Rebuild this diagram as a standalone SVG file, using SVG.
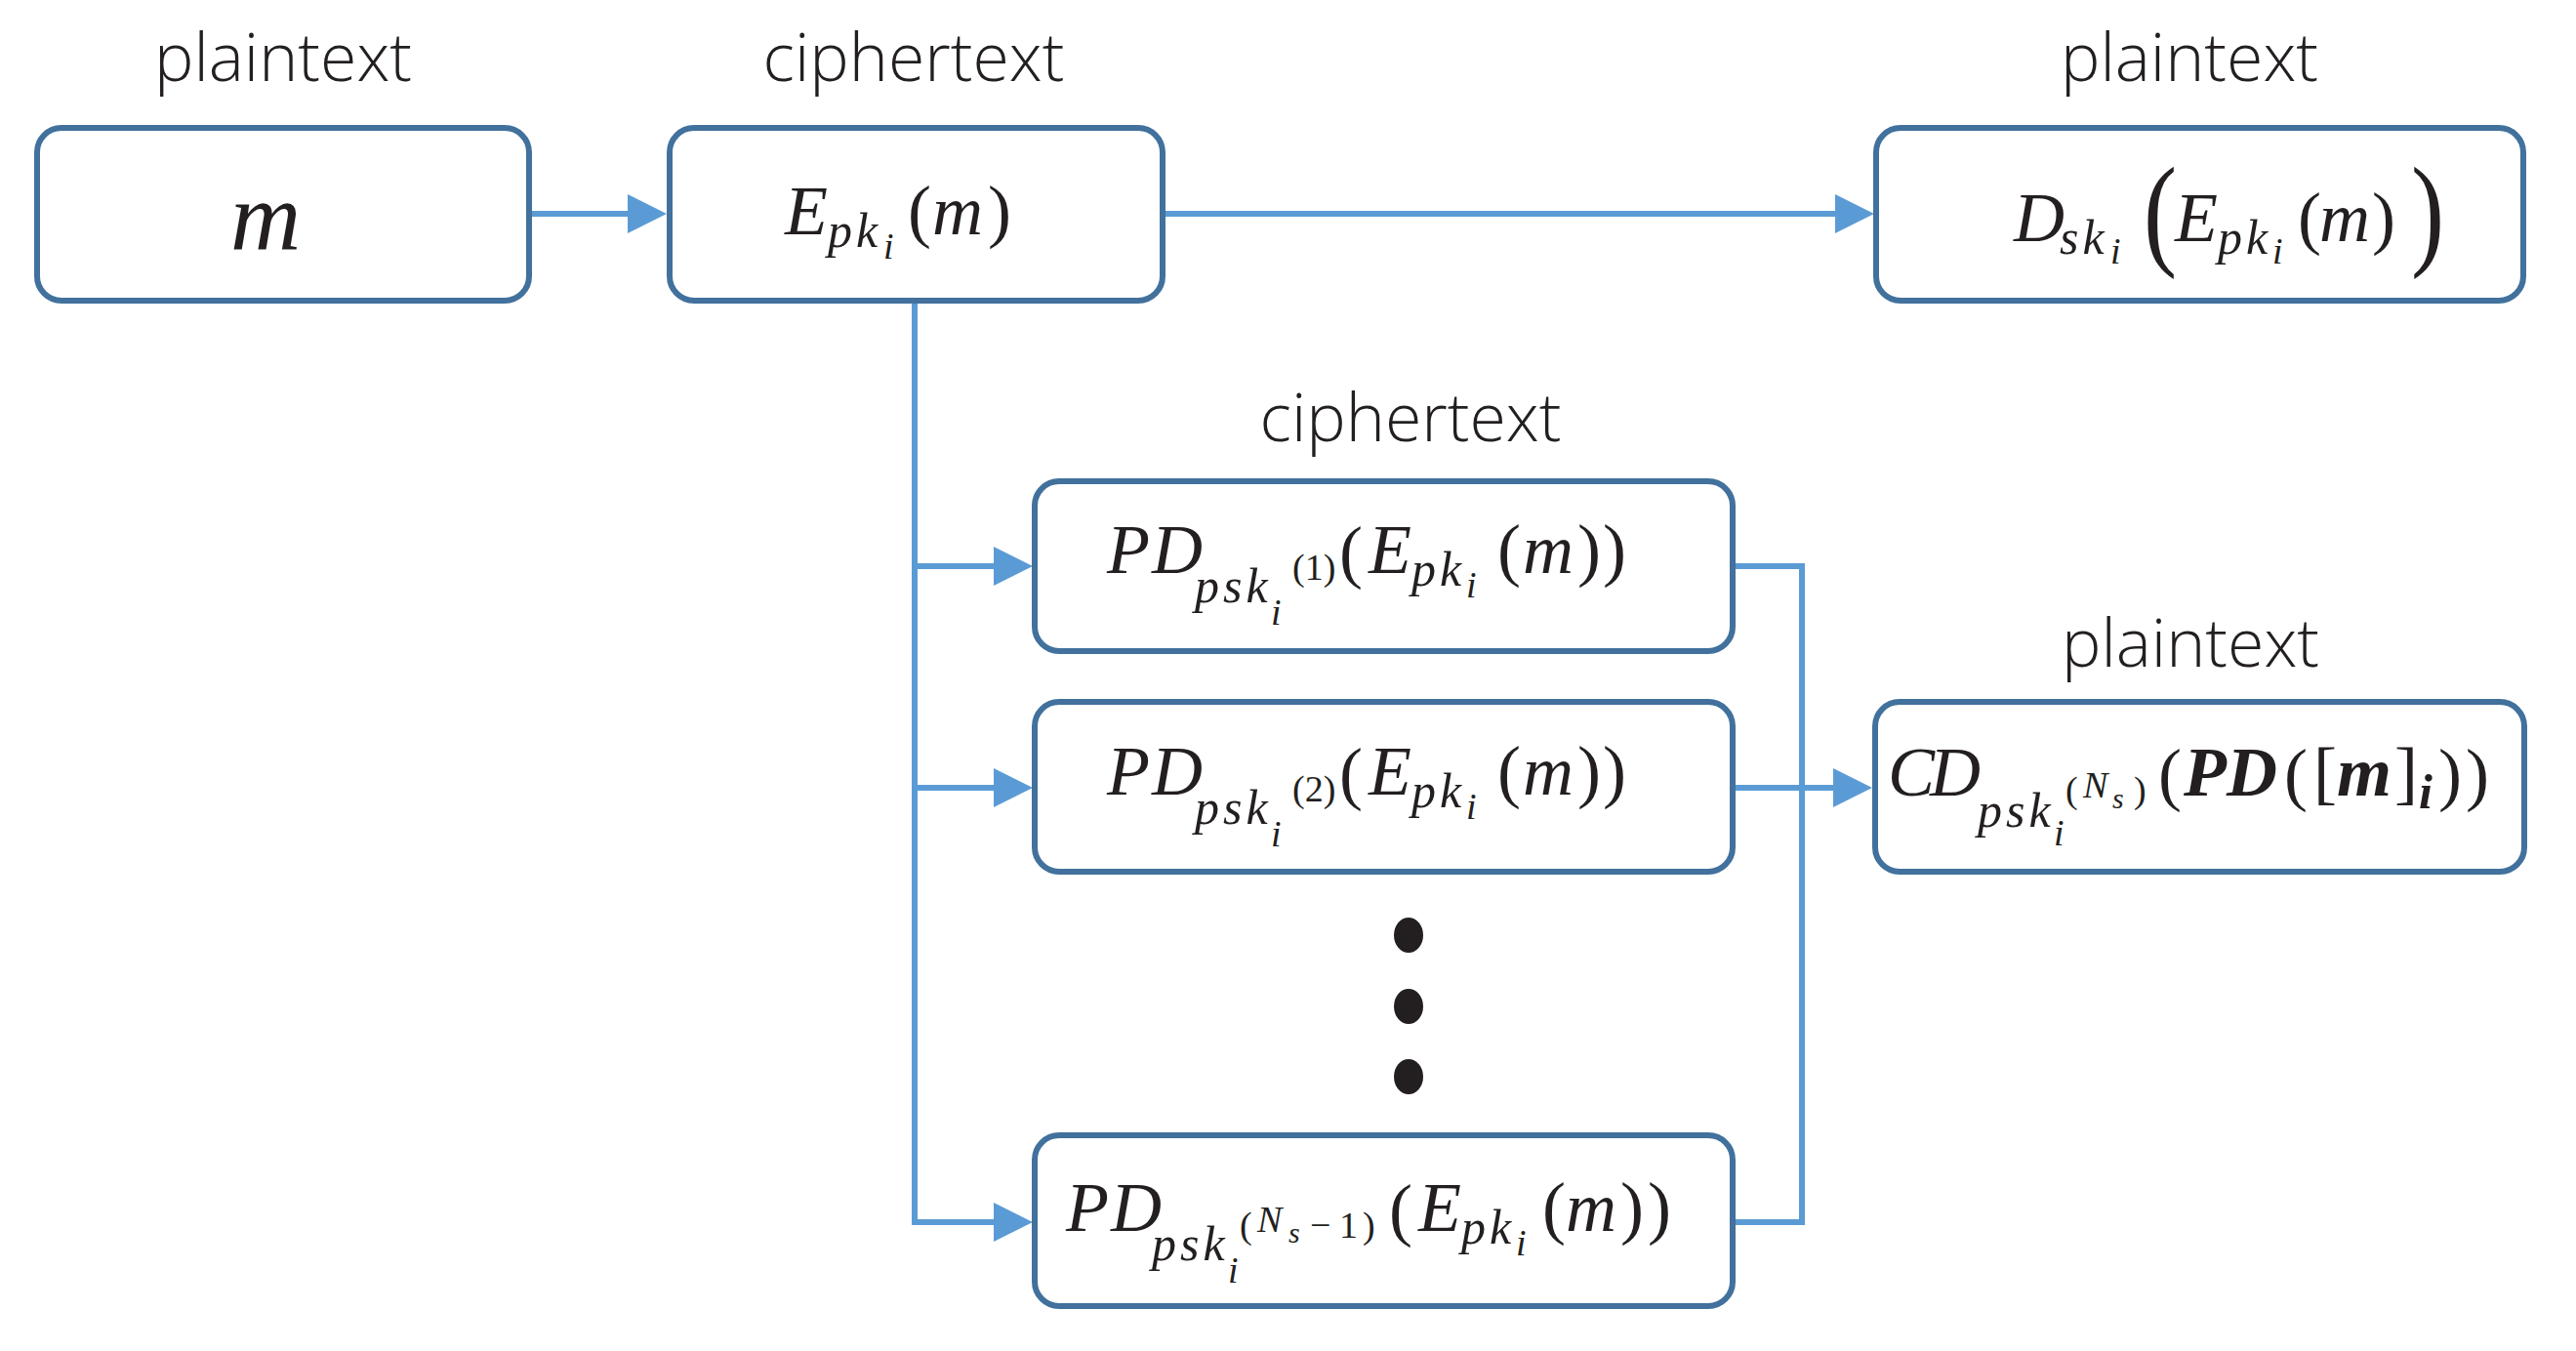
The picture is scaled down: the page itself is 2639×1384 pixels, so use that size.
<svg xmlns="http://www.w3.org/2000/svg" width="2639" height="1384" viewBox="0 0 2639 1384">
<style>
.box{fill:#fff;stroke:#41719C;stroke-width:6}
.conn{fill:none;stroke:#5B9BD5;stroke-width:6}
.lbl{font-family:"Open Sans","Noto Sans","Liberation Sans",sans-serif;font-weight:300;font-size:68px;fill:#231F20;text-anchor:middle}
.mt{font-family:"Liberation Serif","DejaVu Serif",serif;fill:#231F20;font-size:72px}
.it{font-style:italic}
.bi{font-style:italic;font-weight:bold}
.s{font-size:50px;letter-spacing:4px}
.ss{font-size:38px}
.sss{font-size:30px}
.big{font-size:128px}
.huge{font-size:100px}
.dot{fill:#231F20}
</style>
<defs>
<marker id="ah" markerUnits="userSpaceOnUse" markerWidth="42" markerHeight="40" refX="2" refY="20" orient="auto">
<path d="M0,0 L40,20 L0,40 Z" fill="#5B9BD5"/>
</marker>
</defs>
<rect width="2639" height="1384" fill="#fff"/>

<g id="labels">
<text class="lbl" x="290" y="83">plaintext</text>
<text class="lbl" x="936" y="83">ciphertext</text>
<text class="lbl" x="2243" y="83">plaintext</text>
<text class="lbl" x="1445" y="452">ciphertext</text>
<text class="lbl" x="2244" y="683">plaintext</text>
</g>

<g id="connectors">
<line class="conn" x1="544" y1="219" x2="645" y2="219" marker-end="url(#ah)"/>
<line class="conn" x1="1193" y1="219" x2="1882" y2="219" marker-end="url(#ah)"/>
<line class="conn" x1="937" y1="309" x2="937" y2="1255"/>
<line class="conn" x1="934" y1="580" x2="1020" y2="580" marker-end="url(#ah)"/>
<line class="conn" x1="934" y1="807" x2="1020" y2="807" marker-end="url(#ah)"/>
<line class="conn" x1="934" y1="1252" x2="1020" y2="1252" marker-end="url(#ah)"/>
<polyline class="conn" points="1778,580 1846,580 1846,1252 1778,1252"/>
<line class="conn" x1="1778" y1="807" x2="1880" y2="807" marker-end="url(#ah)"/>
</g>

<g id="node-m">
<rect class="box" x="38" y="131" width="504" height="177" rx="25"/>
<text class="mt it huge" x="236" y="255">m</text>
</g>

<g id="node-E">
<rect class="box" x="686" y="131" width="505" height="177" rx="25"/>
<text class="mt"><tspan class="it" x="804" y="240">E</tspan><tspan class="it s" x="848" y="253">pk</tspan><tspan class="it ss" x="905" y="265">i</tspan><tspan x="930" y="240">(</tspan><tspan class="it" x="955" y="240">m</tspan><tspan x="1012" y="240">)</tspan></text>
</g>

<g id="node-D">
<rect class="box" x="1922" y="131" width="663" height="177" rx="25"/>
<text class="mt"><tspan class="it" x="2063" y="247">D</tspan><tspan class="it s" x="2110" y="260">sk</tspan><tspan class="it ss" x="2162" y="270">i</tspan></text>
<text class="mt big" transform="translate(2196,259) scale(0.8,1)">(</text>
<text class="mt"><tspan class="it" x="2228" y="247">E</tspan><tspan class="it s" x="2272" y="260">pk</tspan><tspan class="it ss" x="2328" y="270">i</tspan><tspan x="2354" y="247">(</tspan><tspan class="it" x="2376" y="247">m</tspan><tspan x="2430" y="247">)</tspan></text>
<text class="mt big" transform="translate(2470,259) scale(0.8,1)">)</text>
</g>

<g id="node-PD1">
<rect class="box" x="1060" y="493" width="715" height="174" rx="25"/>
<text class="mt"><tspan class="it" x="1134" y="587">P</tspan><tspan class="it" x="1180" y="587">D</tspan><tspan class="it s" x="1224" y="617">psk</tspan><tspan class="it ss" x="1302" y="640">i</tspan><tspan class="ss" x="1324" y="594">(1)</tspan><tspan x="1372" y="589">(</tspan><tspan class="it" x="1402" y="587">E</tspan><tspan class="it s" x="1446" y="600">pk</tspan><tspan class="it ss" x="1502" y="612">i</tspan><tspan x="1534" y="587">(</tspan><tspan class="it" x="1560" y="587">m</tspan><tspan x="1616" y="587">)</tspan><tspan x="1642" y="587">)</tspan></text>
</g>

<g id="node-PD2">
<rect class="box" x="1060" y="719" width="715" height="174" rx="25"/>
<text class="mt"><tspan class="it" x="1134" y="814">P</tspan><tspan class="it" x="1180" y="814">D</tspan><tspan class="it s" x="1224" y="844">psk</tspan><tspan class="it ss" x="1302" y="867">i</tspan><tspan class="ss" x="1324" y="821">(2)</tspan><tspan x="1372" y="816">(</tspan><tspan class="it" x="1402" y="814">E</tspan><tspan class="it s" x="1446" y="827">pk</tspan><tspan class="it ss" x="1502" y="839">i</tspan><tspan x="1534" y="814">(</tspan><tspan class="it" x="1560" y="814">m</tspan><tspan x="1616" y="814">)</tspan><tspan x="1642" y="814">)</tspan></text>
</g>

<g id="ellipsis">
<ellipse class="dot" cx="1443" cy="958" rx="15" ry="18"/>
<ellipse class="dot" cx="1443" cy="1031" rx="15" ry="18"/>
<ellipse class="dot" cx="1443" cy="1103" rx="15" ry="18"/>
</g>

<g id="node-PDN">
<rect class="box" x="1060" y="1163" width="715" height="175" rx="25"/>
<text class="mt"><tspan class="it" x="1092" y="1261">P</tspan><tspan class="it" x="1138" y="1261">D</tspan><tspan class="it s" x="1180" y="1291">psk</tspan><tspan class="it ss" x="1258" y="1314">i</tspan><tspan class="ss" x="1270" y="1268">(</tspan><tspan class="it ss" x="1288" y="1262">N</tspan><tspan class="it sss" x="1320" y="1273">s</tspan><tspan class="ss" x="1342" y="1268">−</tspan><tspan class="ss" x="1372" y="1268">1</tspan><tspan class="ss" x="1396" y="1268">)</tspan><tspan x="1423" y="1263">(</tspan><tspan class="it" x="1453" y="1261">E</tspan><tspan class="it s" x="1497" y="1274">pk</tspan><tspan class="it ss" x="1553" y="1286">i</tspan><tspan x="1580" y="1261">(</tspan><tspan class="it" x="1604" y="1261">m</tspan><tspan x="1660" y="1261">)</tspan><tspan x="1688" y="1261">)</tspan></text>
</g>

<g id="node-CD">
<rect class="box" x="1921" y="719" width="665" height="174" rx="25"/>
<text class="mt"><tspan class="it" x="1934" y="815">C</tspan><tspan class="it" x="1977" y="815">D</tspan><tspan class="it s" x="2026" y="847">psk</tspan><tspan class="it ss" x="2104" y="866">i</tspan><tspan class="ss" x="2116" y="822">(</tspan><tspan class="it ss" x="2134" y="817">N</tspan><tspan class="it sss" x="2164" y="828">s</tspan><tspan class="ss" x="2186" y="822">)</tspan><tspan x="2211" y="817">(</tspan><tspan class="bi" x="2237" y="815">PD</tspan><tspan x="2340" y="817">(</tspan><tspan x="2370" y="815">[</tspan><tspan class="bi" x="2394" y="815">m</tspan><tspan x="2453" y="815">]</tspan><tspan class="bi" x="2478" y="828" style="font-size:50px">i</tspan><tspan x="2498" y="817">)</tspan><tspan x="2526" y="817">)</tspan></text>
</g>
</svg>
